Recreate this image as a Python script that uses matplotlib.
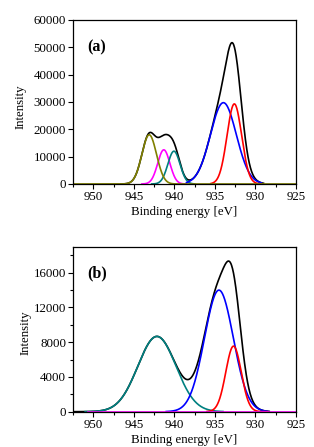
import numpy as np
import matplotlib
matplotlib.use("Agg")
import matplotlib.pyplot as plt
from matplotlib.ticker import MultipleLocator

# ---------------- data ----------------
x_limits = (952.5, 925.0)
x_ticks = [950, 945, 940, 935, 930, 925]

# panel (a): fitted peak components
a_names = ["satellite 1", "satellite 2", "satellite 3", "Cu2+", "Cu+"]
a_colors = ["#808000", "#FF00FF", "#008080", "#0000FF", "#FF0000"]
a_centers = [943.1, 941.3, 940.05, 933.95, 932.6]
a_heights = [18000, 12500, 12000, 29750, 29300]
a_sigmas = [0.9, 0.75, 0.75, 1.6, 0.9]
a_starts = [952.5, 944.0, 942.8, 938.5, 935.5]
a_ends = [925.0, 938.5, 937.5, 929.3, 929.3]
a_env_range = (946.6, 929.0)
a_yticks = [0, 10000, 20000, 30000, 40000, 50000, 60000]

# panel (b): fitted peak components
b_names = ["satellite", "Cu2+", "Cu+"]
b_colors = ["#008080", "#0000FF", "#FF0000"]
b_centers = [942.15, 934.5, 932.7]
b_heights = [8670, 14000, 7550]
b_sigmas = [2.35, 1.78, 0.95]
b_starts = [951.0, 941.0, 936.0]
b_ends = [934.0, 928.5, 928.5]
b_env_range = (952.5, 928.3)
b_zero_range = (950.7, 925.0)
b_yticks = [0, 4000, 8000, 12000, 16000]


def peak(x, c, h, s):
    return h * np.exp(-0.5 * ((x - c) / s) ** 2)


plt.rcParams['font.family'] = ['Liberation Serif', 'DejaVu Serif']
plt.rcParams['font.size'] = 9.3

fig = plt.figure(figsize=(3.14, 4.47), dpi=100)
ax_a = fig.add_axes([0.2325, 0.5884, 0.710, 0.3669])
ax_b = fig.add_axes([0.2325, 0.0790, 0.710, 0.3691])


def style(ax, yticks, ylim, yminor=None):
    ax.set_xlim(*x_limits)
    ax.set_ylim(*ylim)
    ax.set_xticks(x_ticks)
    ax.xaxis.set_minor_locator(MultipleLocator(2.5))
    ax.set_yticks(yticks)
    if yminor:
        ax.yaxis.set_minor_locator(MultipleLocator(yminor))
    ax.tick_params(which='major', direction='out', length=3.5, width=0.8,
                   labelsize=9.3, pad=1.5)
    ax.tick_params(which='minor', direction='out', length=2, width=0.8)
    for sp in ax.spines.values():
        sp.set_linewidth(0.9)
    ax.set_xlabel("Binding energy [eV]", fontsize=9.3, labelpad=2.5)
    ax.set_ylabel("Intensity", fontsize=9.3)


lw = 1.2

# ---- panel (a)
xe = np.linspace(a_env_range[0], a_env_range[1], 600)
env = sum(peak(xe, c, h, s) for c, h, s in zip(a_centers, a_heights, a_sigmas))
ax_a.plot(xe, env, color='black', lw=lw)
order = [1, 2, 3, 4, 0]
for i in order:
    xs = np.linspace(a_starts[i], a_ends[i], 600)
    ax_a.plot(xs, peak(xs, a_centers[i], a_heights[i], a_sigmas[i]),
              color=a_colors[i], lw=lw)
style(ax_a, a_yticks, (0, 60000))
ax_a.yaxis.set_label_coords(-0.21, 0.47)
ax_a.text(0.063, 0.835, "(a)", transform=ax_a.transAxes, fontsize=11.5,
          fontweight='bold', va='center', ha='left')

# ---- panel (b)
xe = np.linspace(b_env_range[0], b_env_range[1], 600)
env = sum(peak(xe, c, h, s) for c, h, s in zip(b_centers, b_heights, b_sigmas))
ax_b.plot(xe, env, color='black', lw=lw)
for i in range(len(b_centers)):
    xs = np.linspace(b_starts[i], b_ends[i], 600)
    ax_b.plot(xs, peak(xs, b_centers[i], b_heights[i], b_sigmas[i]),
              color=b_colors[i], lw=lw)
ax_b.plot(list(b_zero_range), [0, 0], color="#FF00FF", lw=lw)
style(ax_b, b_yticks, (0, 19000), yminor=2000)
ax_b.yaxis.set_label_coords(-0.187, 0.48)
ax_b.text(0.063, 0.839, "(b)", transform=ax_b.transAxes, fontsize=11.5,
          fontweight='bold', va='center', ha='left')

fig.savefig("out.png", dpi=100)
